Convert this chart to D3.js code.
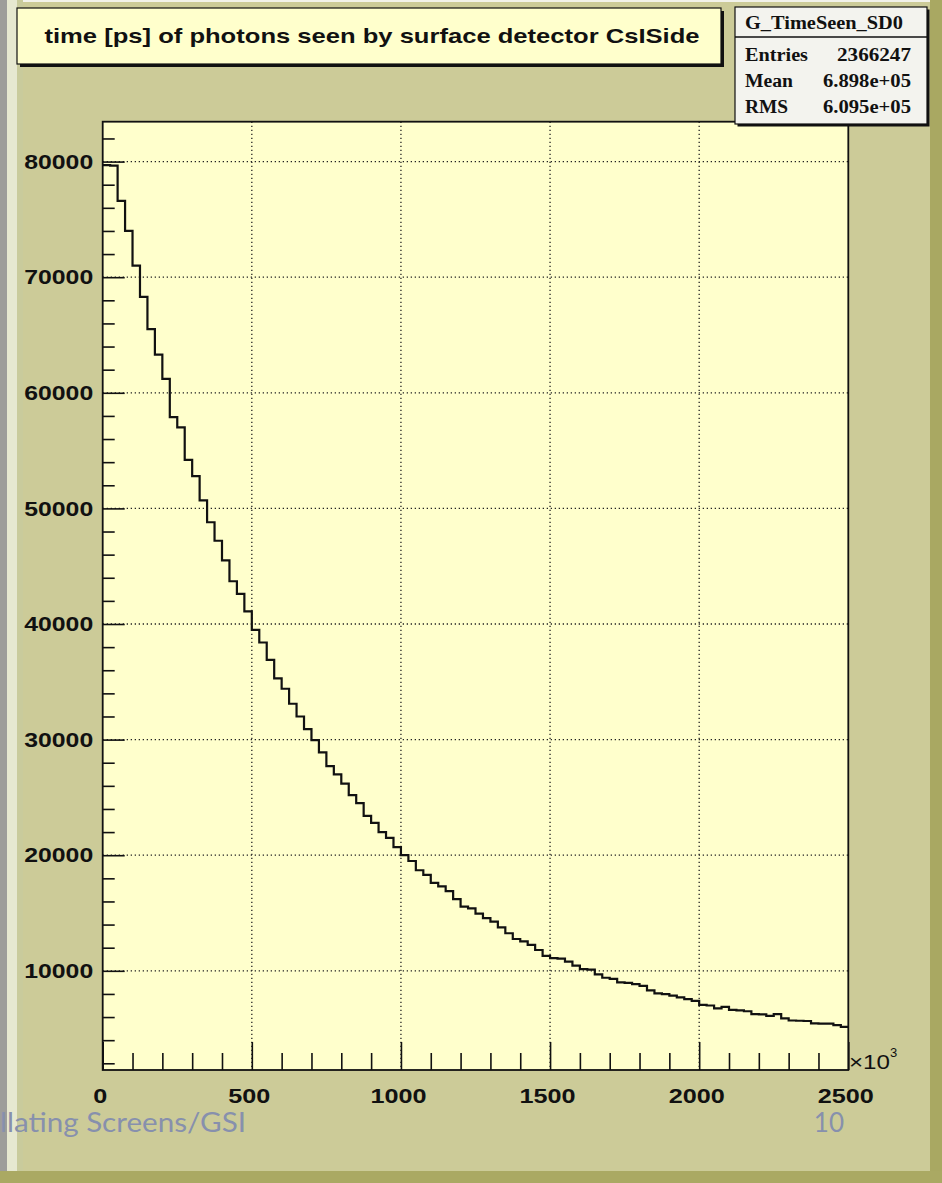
<!DOCTYPE html>
<html><head><meta charset="utf-8">
<script src="https://cdn.jsdelivr.net/npm/d3@7"></script>
<style>body{margin:0;background:#cccb98}svg{display:block}</style>
</head><body><svg id="c" width="942" height="1183"></svg>
<script>
// ---- data ----
const histTitle = "time [ps] of photons seen by surface detector CsISide";
const histName = "G_TimeSeen_SD0";
const statLabels = ["Entries", "Mean", "RMS"];
const statValues = ["2366247", "6.898e+05", "6.095e+05"];
const xMin = 0, xMax = 2500, binWidth = 25;   // ×10^3 ps
const counts = [
  79700, 79650, 76600, 74000, 71000, 68300, 65500, 63300, 61200, 57900,
  57000, 54200, 52800, 50700, 48800, 47200, 45500, 43700, 42600, 41100,
  39500, 38400, 36900, 35300, 34400, 33100, 32000, 30900, 29950, 28900,
  27700, 27000, 26200, 25200, 24500, 23400, 22800, 22000, 21500, 20700,
  20000, 19500, 18700, 18300, 17600, 17300, 16900, 16200, 15550, 15400,
  14950, 14550, 14250, 13750, 13250, 12750, 12550, 12250, 11800, 11300,
  11100, 11050, 10800, 10450, 10150, 10100, 9700, 9400, 9300, 9000,
  8950, 8850, 8700, 8300, 8050, 7980, 7850, 7700, 7550, 7400,
  7050, 7000, 6750, 6880, 6620, 6580, 6500, 6260, 6240, 6100,
  6250, 5880, 5700, 5680, 5660, 5460, 5440, 5430, 5300, 5150
];
const yMin = 1420, yMax = 83450;
const xMajorTicks = [0, 500, 1000, 1500, 2000, 2500];
const yMajorTicks = [10000, 20000, 30000, 40000, 50000, 60000, 70000, 80000];
const xGrid = [500, 1000, 1500, 2000];
const footerLeft = "llating Screens/GSI";
const footerRight = "10";

// ---- layout ----
const svg = d3.select("#c");
const F = {l: 102.7, r: 848.3, t: 121.7, b: 1070};
const x = d3.scaleLinear().domain([xMin, xMax]).range([F.l, F.r]);
const y = d3.scaleLinear().domain([yMin, yMax]).range([F.b, F.t]);

function stretch(sel, k) {
  sel.each(function() {
    const w = this.getComputedTextLength();
    d3.select(this).attr("textLength", w * k).attr("lengthAdjust", "spacingAndGlyphs");
  });
}
function fitTo(sel, w) { sel.attr("textLength", w).attr("lengthAdjust", "spacingAndGlyphs"); }

// pad background and edges
svg.append("rect").attr("width", 942).attr("height", 1183).attr("fill", "#cccb98");
svg.append("rect").attr("width", 942).attr("height", 2).attr("fill", "#f2f2ea");
svg.append("rect").attr("x", 0).attr("width", 7).attr("height", 1183).attr("fill", "#9d9d9a");
svg.append("rect").attr("x", 7).attr("width", 10).attr("height", 1183).attr("fill", "#e6e8d0");
svg.append("rect").attr("x", 17).attr("width", 6).attr("height", 1183).attr("fill", "#c9cb9c");
svg.append("rect").attr("x", 930).attr("width", 12).attr("height", 1183).attr("fill", "#a9a862");
svg.append("rect").attr("y", 1171).attr("width", 942).attr("height", 12).attr("fill", "#aaa963");

// frame fill
svg.append("rect").attr("x", F.l).attr("y", F.t).attr("width", F.r - F.l).attr("height", F.b - F.t)
  .attr("fill", "#ffffcc");

// grid
const grid = svg.append("g").attr("stroke", "#222").attr("stroke-width", 1.3)
  .attr("stroke-dasharray", "1.3,2.7").attr("fill", "none");
grid.selectAll(".gx").data(xGrid).join("line")
  .attr("x1", d => x(d)).attr("x2", d => x(d)).attr("y1", F.t).attr("y2", F.b);
grid.selectAll(".gy").data(yMajorTicks).join("line")
  .attr("y1", d => y(d)).attr("y2", d => y(d)).attr("x1", F.l).attr("x2", F.r);

// histogram step line
const pts = [];
counts.forEach((c, i) => {
  const lo = xMin + i * binWidth, hi = lo + binWidth;
  pts.push([x(lo), y(c)], [x(hi), y(c)]);
});
svg.append("path").attr("d", d3.line()(pts)).attr("fill", "none")
  .attr("stroke", "#111").attr("stroke-width", 2.2).attr("stroke-linejoin", "miter");

// axes
const fontAxis = "'Liberation Sans', Arial, sans-serif";
const fmt = d3.format("d");
const yMinor = d3.range(2000, 83000, 2000).filter(v => v % 10000 !== 0);
svg.append("g").attr("transform", `translate(${F.l},0)`)
  .call(d3.axisLeft(y).tickValues(yMinor).tickSizeInner(-12).tickSizeOuter(0).tickFormat(""))
  .call(g => g.select(".domain").remove())
  .selectAll("line").attr("stroke", "#111").attr("stroke-width", 1.6);
const yAx = svg.append("g").attr("transform", `translate(${F.l},0)`)
  .call(d3.axisLeft(y).tickValues(yMajorTicks).tickFormat(fmt).tickSizeInner(-22).tickSizeOuter(0).tickPadding(9.5));
yAx.select(".domain").remove();
yAx.selectAll("line").attr("stroke", "#111").attr("stroke-width", 1.6);
yAx.selectAll("text").attr("font-family", fontAxis).attr("font-weight", "bold")
  .attr("font-size", 21).attr("fill", "#111").call(fitTo, 69);

const xMinor = d3.range(100, 2500, 100).filter(v => v % 500 !== 0);
svg.append("g").attr("transform", `translate(0,${F.b})`)
  .call(d3.axisBottom(x).tickValues(xMinor).tickSizeInner(-17).tickSizeOuter(0).tickFormat(""))
  .call(g => g.select(".domain").remove())
  .selectAll("line").attr("stroke", "#111").attr("stroke-width", 1.6);
const xAx = svg.append("g").attr("transform", `translate(0,${F.b})`)
  .call(d3.axisBottom(x).tickValues(xMajorTicks).tickFormat(fmt).tickSizeInner(-28).tickSizeOuter(0).tickPadding(18));
xAx.select(".domain").remove();
xAx.selectAll("line").attr("stroke", "#111").attr("stroke-width", 1.6);
xAx.selectAll("text").attr("font-family", fontAxis).attr("font-weight", "bold")
  .attr("font-size", 21).attr("fill", "#111").attr("dx", -3).call(stretch, 1.2);

// frame border
svg.append("rect").attr("x", F.l).attr("y", F.t).attr("width", F.r - F.l).attr("height", F.b - F.t)
  .attr("fill", "none").attr("stroke", "#111").attr("stroke-width", 1.8);

// x10^3
const e3 = svg.append("text").attr("x", 849).attr("y", 1069).attr("font-family", fontAxis)
  .attr("font-size", 20).attr("fill", "#111").text("×10");
fitTo(e3, 41);
svg.append("text").attr("x", 890).attr("y", 1057).attr("font-family", fontAxis)
  .attr("font-size", 13).attr("fill", "#111").text("3");

// title box
const TB = {x: 17, y: 8, w: 704, h: 56};
svg.append("rect").attr("x", TB.x + 3).attr("y", TB.y + 3).attr("width", TB.w).attr("height", TB.h).attr("fill", "#111");
svg.append("rect").attr("x", TB.x).attr("y", TB.y).attr("width", TB.w).attr("height", TB.h)
  .attr("fill", "#ffffcc").attr("stroke", "#111").attr("stroke-width", 1.2);
const tt = svg.append("text").attr("x", 372).attr("y", 43).attr("text-anchor", "middle")
  .attr("font-family", fontAxis).attr("font-weight", "bold").attr("font-size", 21).attr("fill", "#111")
  .text(histTitle);
fitTo(tt, 655);

// stats box
const SB = {x: 735, y: 7, w: 192, h: 117};
svg.append("rect").attr("x", SB.x + 2.5).attr("y", SB.y + 2.5).attr("width", SB.w).attr("height", SB.h).attr("fill", "#111");
svg.append("rect").attr("x", SB.x).attr("y", SB.y).attr("width", SB.w).attr("height", SB.h)
  .attr("fill", "#f3f3ee").attr("stroke", "#111").attr("stroke-width", 1.2);
svg.append("line").attr("x1", SB.x).attr("x2", SB.x + SB.w).attr("y1", 37).attr("y2", 37)
  .attr("stroke", "#111").attr("stroke-width", 1.3);
const fontStat = "'Liberation Serif', 'Times New Roman', serif";
const st = svg.append("text").attr("x", 824).attr("y", 29).attr("text-anchor", "middle")
  .attr("font-family", fontStat).attr("font-weight", "bold").attr("font-size", 18).attr("fill", "#111")
  .text(histName);
fitTo(st, 158);
const rowY = [61, 87, 113];
const labW = [63, 48, 43];
const valW = [74, 88, 88];
statLabels.forEach((l, i) => {
  const a = svg.append("text").attr("x", 745).attr("y", rowY[i]).attr("font-family", fontStat)
    .attr("font-weight", "bold").attr("font-size", 18).attr("fill", "#111").text(l);
  fitTo(a, labW[i]);
  const b = svg.append("text").attr("x", 911).attr("y", rowY[i]).attr("text-anchor", "end")
    .attr("font-family", fontStat).attr("font-weight", "bold").attr("font-size", 18).attr("fill", "#111")
    .text(statValues[i]);
  fitTo(b, valW[i]);
});

// footer (slide text)
const fl = svg.append("text").attr("x", 0).attr("y", 1132).attr("font-family", "Lato, 'Open Sans', sans-serif")
  .attr("font-size", 26).attr("fill", "#8790ad").text(footerLeft);
fitTo(fl, 246);
svg.append("text").attr("x", 844).attr("y", 1132).attr("text-anchor", "end")
  .attr("font-family", "Lato, 'Open Sans', sans-serif").attr("font-size", 26).attr("fill", "#8790ad")
  .text(footerRight);
</script></body></html>
